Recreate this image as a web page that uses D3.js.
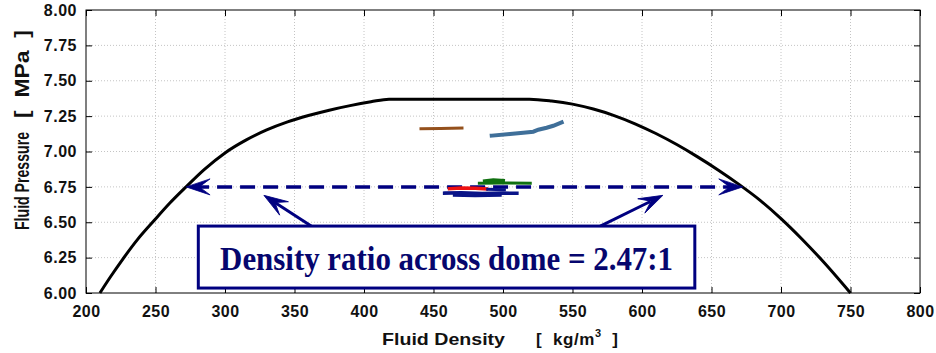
<!DOCTYPE html>
<html>
<head>
<meta charset="utf-8">
<script src="https://cdn.jsdelivr.net/npm/d3@7"></script>
<style>
  body { margin: 0; background: #fff; }
  text { white-space: pre; }
</style>
</head>
<body>
<div id="chart"></div>
<script>
// axis ticks
const xTicks = [200, 250, 300, 350, 400, 450, 500, 550, 600, 650, 700, 750, 800];
const yTicks = [6.00, 6.25, 6.50, 6.75, 7.00, 7.25, 7.50, 7.75, 8.00];

// saturation dome (vapour side, flat top, liquid side)
const domeDensity = [210, 218, 226, 237, 249, 260, 272, 285, 300, 315, 330, 345, 360, 375, 390, 405, 418,
    519, 535, 550, 565, 580, 595, 610, 625, 640, 655, 670, 685, 700, 715, 730, 750];
const domePressure = [6.000, 6.120, 6.233, 6.377, 6.512, 6.632, 6.750, 6.872, 6.990, 7.080, 7.152, 7.209, 7.254, 7.292, 7.324, 7.351, 7.370,
    7.370, 7.357, 7.335, 7.300, 7.254, 7.196, 7.127, 7.049, 6.962, 6.868, 6.766, 6.655, 6.526, 6.382, 6.226, 6.000];

// measured traces
const brownDensity = [441, 455, 470.5];
const brownPressure = [7.161, 7.163, 7.166];
const steelDensity = [491.9, 505, 514.6, 521.8, 525.4, 531.4, 536.2, 542.2];
const steelPressure = [7.112, 7.124, 7.133, 7.140, 7.154, 7.168, 7.182, 7.206];
const greenADensity = [483, 500, 519.6];
const greenAPressure = [6.776, 6.777, 6.776];
const greenBDensity = [487, 493, 500];
const greenBPressure = [6.790, 6.797, 6.792];
const redDensity = [461.5, 470, 480, 488];
const redPressure = [6.737, 6.742, 6.740, 6.735];
const navyADensity = [458, 470, 485, 500, 510];
const navyAPressure = [6.706, 6.708, 6.704, 6.706, 6.705];
const navyBDensity = [489, 495, 501];
const navyBPressure = [6.733, 6.731, 6.730];
const navyCDensity = [465, 480, 498];
const navyCPressure = [6.690, 6.688, 6.690];

// annotation
const ratioPressure = 6.75;
const vaporDensity = 272;
const liquidDensity = 672.5;
const boxLabel = "Density ratio across dome = 2.47:1";

const width = 936, height = 353;
const margin = { top: 10, right: 16, bottom: 60, left: 86 };
const navy = "#000080";
const sans = "Liberation Sans, Arial, sans-serif";

const svg = d3.select("#chart").append("svg")
    .attr("width", width)
    .attr("height", height);

const x = d3.scaleLinear().domain([200, 800]).range([margin.left, width - margin.right]);
const y = d3.scaleLinear().domain([6, 8]).range([height - margin.bottom, margin.top]);

// grid
svg.append("g").selectAll("line")
    .data(xTicks.slice(1, -1))
    .enter().append("line")
    .attr("x1", d => x(d)).attr("x2", d => x(d))
    .attr("y1", y(6)).attr("y2", y(8))
    .attr("stroke", "#c4c4c4").attr("stroke-dasharray", "1,2");
svg.append("g").selectAll("line")
    .data(yTicks.slice(1, -1))
    .enter().append("line")
    .attr("y1", d => y(d)).attr("y2", d => y(d))
    .attr("x1", x(200)).attr("x2", x(800))
    .attr("stroke", "#c4c4c4").attr("stroke-dasharray", "1,2");

// axes (inward ticks, mirrored on top/right)
svg.append("g")
    .attr("transform", `translate(0,${y(6)})`)
    .call(d3.axisBottom(x).tickValues(xTicks).tickSizeInner(-6).tickSizeOuter(0).tickPadding(13).tickFormat(d3.format("d")));
svg.append("g")
    .attr("transform", `translate(${x(200)},0)`)
    .call(d3.axisLeft(y).tickValues(yTicks).tickSizeInner(-6).tickSizeOuter(0).tickPadding(9).tickFormat(d3.format(".2f")));
svg.append("g")
    .attr("transform", `translate(0,${y(8)})`)
    .call(d3.axisTop(x).tickValues(xTicks).tickSizeInner(-6).tickSizeOuter(0).tickFormat(""));
svg.append("g")
    .attr("transform", `translate(${x(800)},0)`)
    .call(d3.axisRight(y).tickValues(yTicks).tickSizeInner(-6).tickSizeOuter(0).tickFormat(""));
svg.selectAll(".domain").remove();
svg.selectAll(".tick line").attr("stroke", "#000");
svg.selectAll(".tick text")
    .attr("font-family", sans)
    .attr("font-weight", "bold")
    .attr("font-size", 16)
    .attr("letter-spacing", 0.5)
    .attr("fill", "#111");

// frame
svg.append("rect")
    .attr("x", x(200)).attr("y", y(8))
    .attr("width", x(800) - x(200)).attr("height", y(6) - y(8))
    .attr("fill", "none").attr("stroke", "#000").attr("stroke-width", 1);

const line = d3.line().x(d => x(d[0])).y(d => y(d[1]));

// dome
svg.append("path")
    .datum(d3.zip(domeDensity, domePressure))
    .attr("fill", "none")
    .attr("stroke", "#000")
    .attr("stroke-width", 3)
    .attr("d", d3.line().x(d => x(d[0])).y(d => y(d[1])).curve(d3.curveMonotoneX));

// arrow head drawn at (tx,ty) pointing away from (fx,fy)
function arrowHead(g, fx, fy, tx, ty) {
    const L = 24, W = 8;
    const ang = Math.atan2(ty - fy, tx - fx) * 180 / Math.PI;
    g.append("path")
        .attr("d", `M0,0 L${-L},${-W} L${-0.55 * L},0 L${-L},${W} Z`)
        .attr("fill", navy)
        .attr("stroke", navy)
        .attr("stroke-width", 0.8)
        .attr("stroke-linejoin", "round")
        .attr("transform", `translate(${tx},${ty}) rotate(${ang})`);
}

const ann = svg.append("g");
// dashed double arrow across the dome
ann.append("line")
    .attr("x1", x(vaporDensity) + 8).attr("x2", x(liquidDensity) - 8)
    .attr("y1", y(ratioPressure)).attr("y2", y(ratioPressure))
    .attr("stroke", navy).attr("stroke-width", 3.5)
    .attr("stroke-dasharray", "15,8");
arrowHead(ann, x(liquidDensity), y(ratioPressure), x(vaporDensity), y(ratioPressure));
arrowHead(ann, x(vaporDensity), y(ratioPressure), x(liquidDensity), y(ratioPressure));

// traces
const traces = [
    { d: brownDensity, p: brownPressure, color: "#94501c", w: 3 },
    { d: steelDensity, p: steelPressure, color: "#3f6f99", w: 4 },
    { d: greenADensity, p: greenAPressure, color: "#107010", w: 3 },
    { d: greenBDensity, p: greenBPressure, color: "#107010", w: 4 },
    { d: navyADensity, p: navyAPressure, color: "#0a1488", w: 3.5 },
    { d: navyCDensity, p: navyCPressure, color: "#0a1488", w: 3 },
    { d: redDensity, p: redPressure, color: "#ee1111", w: 3.5 },
    { d: navyBDensity, p: navyBPressure, color: "#0a1488", w: 3 }
];
svg.append("g").selectAll("path")
    .data(traces)
    .enter().append("path")
    .attr("fill", "none")
    .attr("stroke", t => t.color)
    .attr("stroke-width", t => t.w)
    .attr("stroke-linecap", "square")
    .attr("d", t => line(d3.zip(t.d, t.p)));

// pointer arrows from the box
const pointers = [
    { from: [362, 6.473], to: [328, 6.69] },
    { from: [570, 6.473], to: [615, 6.69] }
];
pointers.forEach(pt => {
    const fx = x(pt.from[0]), fy = y(pt.from[1]), tx = x(pt.to[0]), ty = y(pt.to[1]);
    ann.append("line")
        .attr("x1", fx).attr("y1", fy)
        .attr("x2", tx + (fx - tx) * 0.2).attr("y2", ty + (fy - ty) * 0.2)
        .attr("stroke", navy).attr("stroke-width", 3);
    arrowHead(ann, fx, fy, tx, ty);
});

// text box
const bx0 = x(280.8), bx1 = x(638), by0 = y(6.473), by1 = y(6.035);
ann.append("rect")
    .attr("x", bx0).attr("y", by0)
    .attr("width", bx1 - bx0).attr("height", by1 - by0)
    .attr("fill", "#fff").attr("stroke", navy).attr("stroke-width", 3);
ann.append("text")
    .attr("x", (bx0 + bx1) / 2).attr("y", by0 + 44)
    .attr("text-anchor", "middle")
    .attr("font-family", "Liberation Serif, Times New Roman, serif")
    .attr("font-weight", "bold")
    .attr("font-size", 34)
    .attr("textLength", 453)
    .attr("lengthAdjust", "spacingAndGlyphs")
    .attr("fill", "#06066e")
    .text(boxLabel);

// axis titles
const titleStyle = t => t
    .attr("font-family", sans)
    .attr("font-weight", "bold")
    .attr("font-size", 17)
    .attr("fill", "#111");

svg.append("text").call(titleStyle)
    .attr("x", 382).attr("y", 345)
    .attr("textLength", 123).attr("lengthAdjust", "spacingAndGlyphs")
    .text("Fluid Density");
const xu = svg.append("text").call(titleStyle)
    .attr("x", 536).attr("y", 345)
    .attr("letter-spacing", 0.6);
xu.append("tspan").text("[  kg/m");
xu.append("tspan").attr("font-size", 11).attr("dy", -8).text("3");
xu.append("tspan").attr("dy", 8).text("  ]");

svg.append("text").call(titleStyle)
    .attr("font-size", 21)
    .attr("transform", "translate(29,230) rotate(-90)")
    .attr("textLength", 98).attr("lengthAdjust", "spacingAndGlyphs")
    .text("Fluid Pressure");
svg.append("text").call(titleStyle)
    .attr("font-size", 21)
    .attr("transform", "translate(29,118) rotate(-90)")
    .attr("textLength", 88).attr("lengthAdjust", "spacingAndGlyphs")
    .text("[  MPa  ]");
</script>
</body>
</html>
